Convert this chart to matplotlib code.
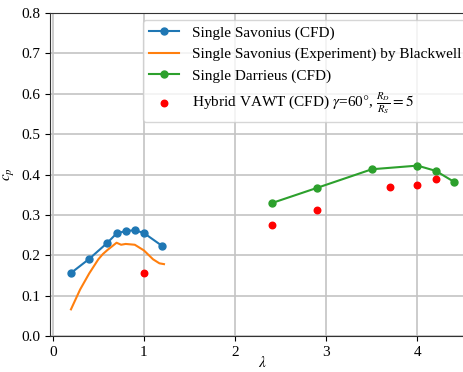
import matplotlib
matplotlib.use('Agg')
import matplotlib.pyplot as plt

# Single Savonius (CFD)
sav_tsr = [0.2, 0.4, 0.6, 0.7, 0.8, 0.9, 1.0, 1.2]
sav_cp = [0.156, 0.191, 0.231, 0.254, 0.260, 0.262, 0.255, 0.223]

# Single Savonius (Experiment) by Blackwell
exp_tsr = [0.2, 0.3, 0.35, 0.4, 0.5, 0.55, 0.6, 0.7, 0.75, 0.8, 0.9, 1.0, 1.1, 1.17, 1.22]
exp_cp = [0.066, 0.115, 0.135, 0.155, 0.19, 0.203, 0.213, 0.231, 0.226, 0.228, 0.226,
          0.212, 0.19, 0.18, 0.178]

# Single Darrieus (CFD)
dar_tsr = [2.4, 2.9, 3.5, 4.0, 4.2, 4.4]
dar_cp = [0.329, 0.367, 0.413, 0.422, 0.409, 0.382]

# Hybrid VAWT (CFD)
hyb_tsr = [1.0, 2.4, 2.9, 3.7, 4.0, 4.2]
hyb_cp = [0.156, 0.276, 0.312, 0.369, 0.375, 0.389]

plt.rcParams['font.family'] = ['Liberation Serif', 'DejaVu Serif']
plt.rcParams['mathtext.fontset'] = 'stix'
plt.rcParams['font.size'] = 11

fig = plt.figure(figsize=(4.64, 3.72), dpi=100)
# the right side of the axes runs past the edge of the picture
ax = fig.add_axes([50 / 464, 36 / 372, 424 / 464, 323 / 372])

ax.plot(sav_tsr, sav_cp, '-o', color='#1f77b4', markersize=5, label='Single Savonius (CFD)')
ax.plot(exp_tsr, exp_cp, '-', color='#ff7f0e', label='Single Savonius (Experiment) by Blackwell')
ax.plot(dar_tsr, dar_cp, '-o', color='#2ca02c', markersize=5, label='Single Darrieus (CFD)')
ax.scatter(hyb_tsr, hyb_cp, color='red', s=22, zorder=3,
           label=r'Hybrid VAWT (CFD) $\gamma$=60$\degree$, $\frac{R_D}{R_S}=5$')

ax.set_xlim(-0.03, 4.62)
ax.set_ylim(0, 0.8)
ax.set_xticks([0, 1, 2, 3, 4])
ax.grid(True, color='#c4c4c4', linewidth=1.2)
ax.set_axisbelow(True)
for s in ax.spines.values():
    s.set_color('#333333')
ax.set_xlabel(r'$\lambda$', labelpad=-3)
ax.set_ylabel(r'$c_p$')
ax.legend(loc='upper right', handlelength=2, borderaxespad=0.45)

fig.savefig('out.png', dpi=100)
